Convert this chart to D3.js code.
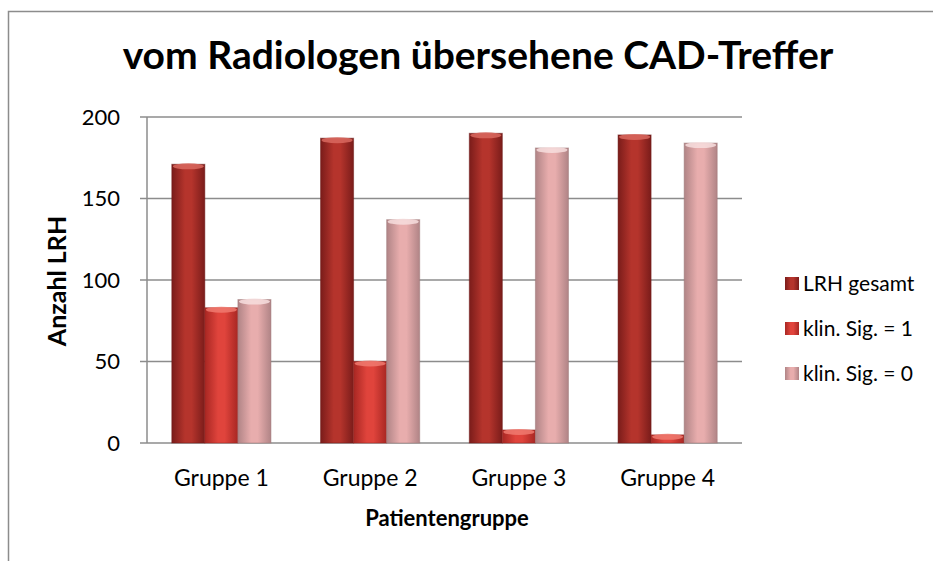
<!DOCTYPE html>
<html>
<head>
<meta charset="utf-8">
<script src="https://cdn.jsdelivr.net/npm/d3@7"></script>
<style>
  body { margin: 0; background: #fff; }
  text { font-family: Lato, "Open Sans", sans-serif; fill: #000; }
</style>
</head>
<body>
<div id="chart"></div>
<script>
var groups = ['Gruppe 1', 'Gruppe 2', 'Gruppe 3', 'Gruppe 4'],
    series = ['LRH gesamt', 'klin. Sig. = 1', 'klin. Sig. = 0'],
    gesamt = [171, 187, 190, 189],
    sig1 = [83, 50, 8, 5],
    sig0 = [88, 137, 181, 184],
    yTicks = [0, 50, 100, 150, 200];

var values = [gesamt, sig1, sig0];
var colors = [
  { edge: '#7a1c1a', mid: '#b5342c', cap: '#d9685f' },
  { edge: '#a82723', mid: '#e0443c', cap: '#f07a70' },
  { edge: '#b08486', mid: '#e8adad', cap: '#f7dede' }
];

var W = 933, H = 561,
    m = { left: 147, top: 117, right: 742, bottom: 443 };

var svg = d3.select('#chart').append('svg')
    .attr('width', W)
    .attr('height', H);

var defs = svg.append('defs');
colors.forEach(function(c, i){
  var g = defs.append('linearGradient')
      .attr('id', 'grad' + i)
      .attr('x1', 0).attr('x2', 1).attr('y1', 0).attr('y2', 0);
  g.append('stop').attr('offset', '0%').attr('stop-color', c.edge);
  g.append('stop').attr('offset', '40%').attr('stop-color', c.mid);
  g.append('stop').attr('offset', '60%').attr('stop-color', c.mid);
  g.append('stop').attr('offset', '100%').attr('stop-color', c.edge);
});

// outer frame
svg.append('path')
    .attr('d', 'M8.5,' + H + 'V11.5H' + W)
    .attr('fill', 'none')
    .attr('stroke', '#8c8c8c')
    .attr('stroke-width', 1.5);

var x0 = d3.scaleBand().domain(groups).range([m.left, m.right]).paddingInner(1/3).paddingOuter(1/6);
var x1 = d3.scaleBand().domain(d3.range(series.length)).range([0, x0.bandwidth()]);
var y = d3.scaleLinear().domain([0, 200]).range([m.bottom, m.top]);

// gridlines
svg.append('g').selectAll('line')
    .data(yTicks)
  .enter().append('line')
    .attr('x1', m.left - 7).attr('x2', m.right)
    .attr('y1', function(d){ return y(d); })
    .attr('y2', function(d){ return y(d); })
    .attr('stroke', '#8c8c8c')
    .attr('stroke-width', 1.5);

svg.append('line')
    .attr('x1', m.left).attr('x2', m.left)
    .attr('y1', m.top).attr('y2', m.bottom)
    .attr('stroke', '#8c8c8c')
    .attr('stroke-width', 1.5);

// y axis labels
var yAxis = d3.axisLeft(y).tickValues(yTicks).tickSize(0).tickPadding(0);
var ya = svg.append('g')
    .attr('transform', 'translate(' + (m.left - 27) + ',0)')
    .call(yAxis);
ya.select('.domain').remove();
ya.selectAll('text')
    .style('font-size', '22px')
    .style('font-family', 'Lato, sans-serif')
    .attr('fill', '#000');

// bars
var gG = svg.append('g').selectAll('g')
    .data(groups)
  .enter().append('g')
    .attr('transform', function(d){ return 'translate(' + x0(d) + ',0)'; });

gG.each(function(grp, gi){
  var sel = d3.select(this);
  series.forEach(function(s, si){
    var v = values[si][gi],
        bx = x1(si), bw = x1.bandwidth(),
        top = y(v);
    sel.append('rect')
        .attr('x', bx).attr('y', top)
        .attr('width', bw).attr('height', y(0) - top)
        .attr('fill', 'url(#grad' + si + ')')
        .attr('stroke', d3.color(colors[si].edge).darker(0.3))
        .attr('stroke-opacity', 0.5)
        .attr('stroke-width', 1);
    sel.append('ellipse')
        .attr('cx', bx + bw / 2).attr('cy', top + 2)
        .attr('rx', bw / 2 - 1).attr('ry', 3)
        .attr('fill', colors[si].cap)
        .attr('opacity', 0.85);
  });
});

// x axis labels
var xAxis = d3.axisBottom(x0).tickSize(0).tickPadding(0);
var xa = svg.append('g')
    .attr('transform', 'translate(0,486)')
    .call(xAxis);
xa.select('.domain').remove();
xa.selectAll('text')
    .attr('y', 0)
    .attr('dy', 0)
    .style('font-size', '23px')
    .style('font-family', 'Lato, sans-serif')
    .attr('fill', '#000');

// titles
svg.append('text')
    .attr('x', 478).attr('y', 69)
    .attr('text-anchor', 'middle')
    .style('font-size', '39px')
    .style('font-weight', 'bold')
    .text('vom Radiologen übersehene CAD-Treffer');

svg.append('text')
    .attr('x', 447).attr('y', 526)
    .attr('text-anchor', 'middle')
    .style('font-size', '22px')
    .style('font-weight', 'bold')
    .text('Patientengruppe');

svg.append('text')
    .attr('transform', 'translate(66,281) rotate(-90)')
    .attr('text-anchor', 'middle')
    .style('font-size', '25px')
    .style('font-weight', 'bold')
    .text('Anzahl LRH');

// legend
var lg = svg.append('g').selectAll('g')
    .data(series)
  .enter().append('g')
    .attr('transform', function(d, i){ return 'translate(785,' + (284 + i * 45) + ')'; });
lg.append('rect')
    .attr('x', 0).attr('y', -7)
    .attr('width', 14).attr('height', 13)
    .attr('fill', function(d, i){ return 'url(#grad' + i + ')'; });
lg.append('text')
    .attr('x', 18).attr('dy', '0.35em')
    .style('font-size', '21px')
    .text(function(d){ return d; });
</script>
</body>
</html>
